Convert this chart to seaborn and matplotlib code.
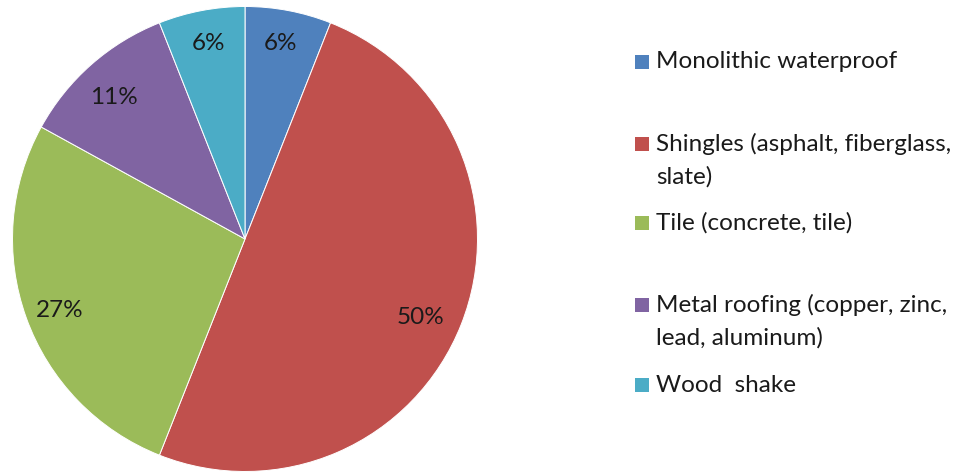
import matplotlib
matplotlib.use("Agg")
import matplotlib.pyplot as plt
from matplotlib.patches import Rectangle
from matplotlib.transforms import ScaledTranslation
import seaborn as sns

sns.set_theme(style="white")
plt.rcParams["font.family"] = ["Lato", "DejaVu Sans"]

# Roofing material shares
categories = [
    "Monolithic waterproof",
    "Shingles (asphalt, fiberglass,\nslate)",
    "Tile (concrete, tile)",
    "Metal roofing (copper, zinc,\nlead, aluminum)",
    "Wood  shake",
]
shares = [6, 50, 27, 11, 6]
colors = ["#4F81BD", "#C0504D", "#9BBB59", "#8064A2", "#4BACC6"]

W, H = 965, 473
fig = plt.figure(figsize=(W / 100, H / 100), dpi=100)

cx, cy, r = 245, 239, 232.5
ax = fig.add_axes([(cx - r) / W, (H - cy - r) / H, 2 * r / W, 2 * r / H])
wedges, texts, autotexts = ax.pie(
    shares,
    colors=colors,
    startangle=90,
    counterclock=False,
    autopct=lambda p: f"{p:.0f}%",
    pctdistance=0.85,
    wedgeprops=dict(edgecolor="white", linewidth=0.7),
    textprops=dict(fontsize=17.5, color="#1a1a1a"),
)
ax.set_aspect("equal")
ax.set_xlim(-1, 1)
ax.set_ylim(-1, 1)

# small pixel nudges for the percentage labels (x right, y down)
label_nudge = [(-2, -3), (-8, 4), (1, 3), (0, 5), (1, -3)]
for t, (nx, ny) in zip(autotexts, label_nudge):
    t.set_va("center_baseline")
    t.set_transform(t.get_transform() +
                    ScaledTranslation(nx / 100, -ny / 100, fig.dpi_scale_trans))

# Legend entries: square marker aligned with the first text line
entry_y = [62, 144, 223, 305, 385]
line_step = 33
for label, color, y in zip(categories, colors, entry_y):
    fig.patches.append(Rectangle((635 / W, (H - y - 7) / H), 14 / W, 14 / H,
                                 transform=fig.transFigure, facecolor=color,
                                 edgecolor="none"))
    for i, line in enumerate(label.split("\n")):
        fig.text(656 / W, (H - y - i * line_step) / H, line, fontsize=17.5,
                 color="#1a1a1a", ha="left", va="center",
                 transform=fig.transFigure)

fig.savefig("out.png", dpi=100)
